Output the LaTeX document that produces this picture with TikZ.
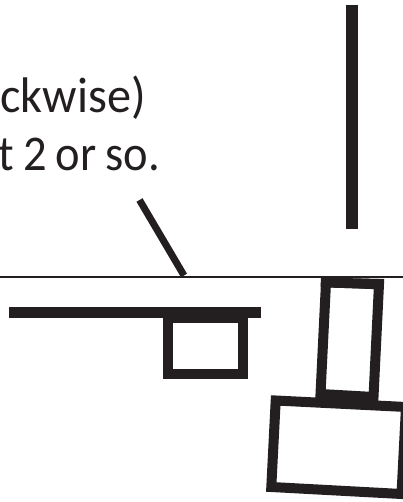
\documentclass[tikz,border=0pt]{standalone}
\usepackage{fontspec}
\setmainfont[FakeStretch=0.93,WordSpace=0.85]{Carlito}
\newfontfamily\widerface[FakeStretch=0.965]{Carlito}
\definecolor{ink}{HTML}{231F20}
\tikzset{
  thickrect/.style={draw=ink,line width=10pt,line join=miter},
  bar/.style={fill=ink,draw=none},
  label/.style={anchor=base east,inner sep=0pt,text=ink,font=\fontsize{50pt}{50pt}\selectfont}
}
\begin{document}
\begin{tikzpicture}[x=1pt,y=-1pt]
\useasboundingbox (0,0) rectangle (403,502);
\clip (0,0) rectangle (403,502);
\node[label] (line1) at (146,112.7) {\widerface ckwise)};
\node[label] (line2) at (160,170.7) {t 2 or so.};
\fill[bar] (346,5) rectangle (358,229);
\draw[ink,line width=7pt] (139.5,200) -- (184,275.5);
\draw[ink,line width=2pt] (0,277) -- (403,277);
\fill[bar] (9,307.3) rectangle (261,318);
\fill[bar] (163,318) rectangle (247.7,323);
\draw[thickrect] (168.2,318) -- (242.5,318) -- (242.5,373.5) -- (168.2,373.5) -- cycle;
\fill[bar] (321,278) -- (384,279) -- (383.5,289.5) -- (320.5,287) -- cycle;
\draw[thickrect] (326,282.5) -- (379,284) -- (373.5,397) -- (320.5,394) -- cycle;
\draw[thickrect] (275.7,400.5) -- (406,407) -- (401.5,494) -- (271.3,487) -- cycle;
\end{tikzpicture}
\end{document}
